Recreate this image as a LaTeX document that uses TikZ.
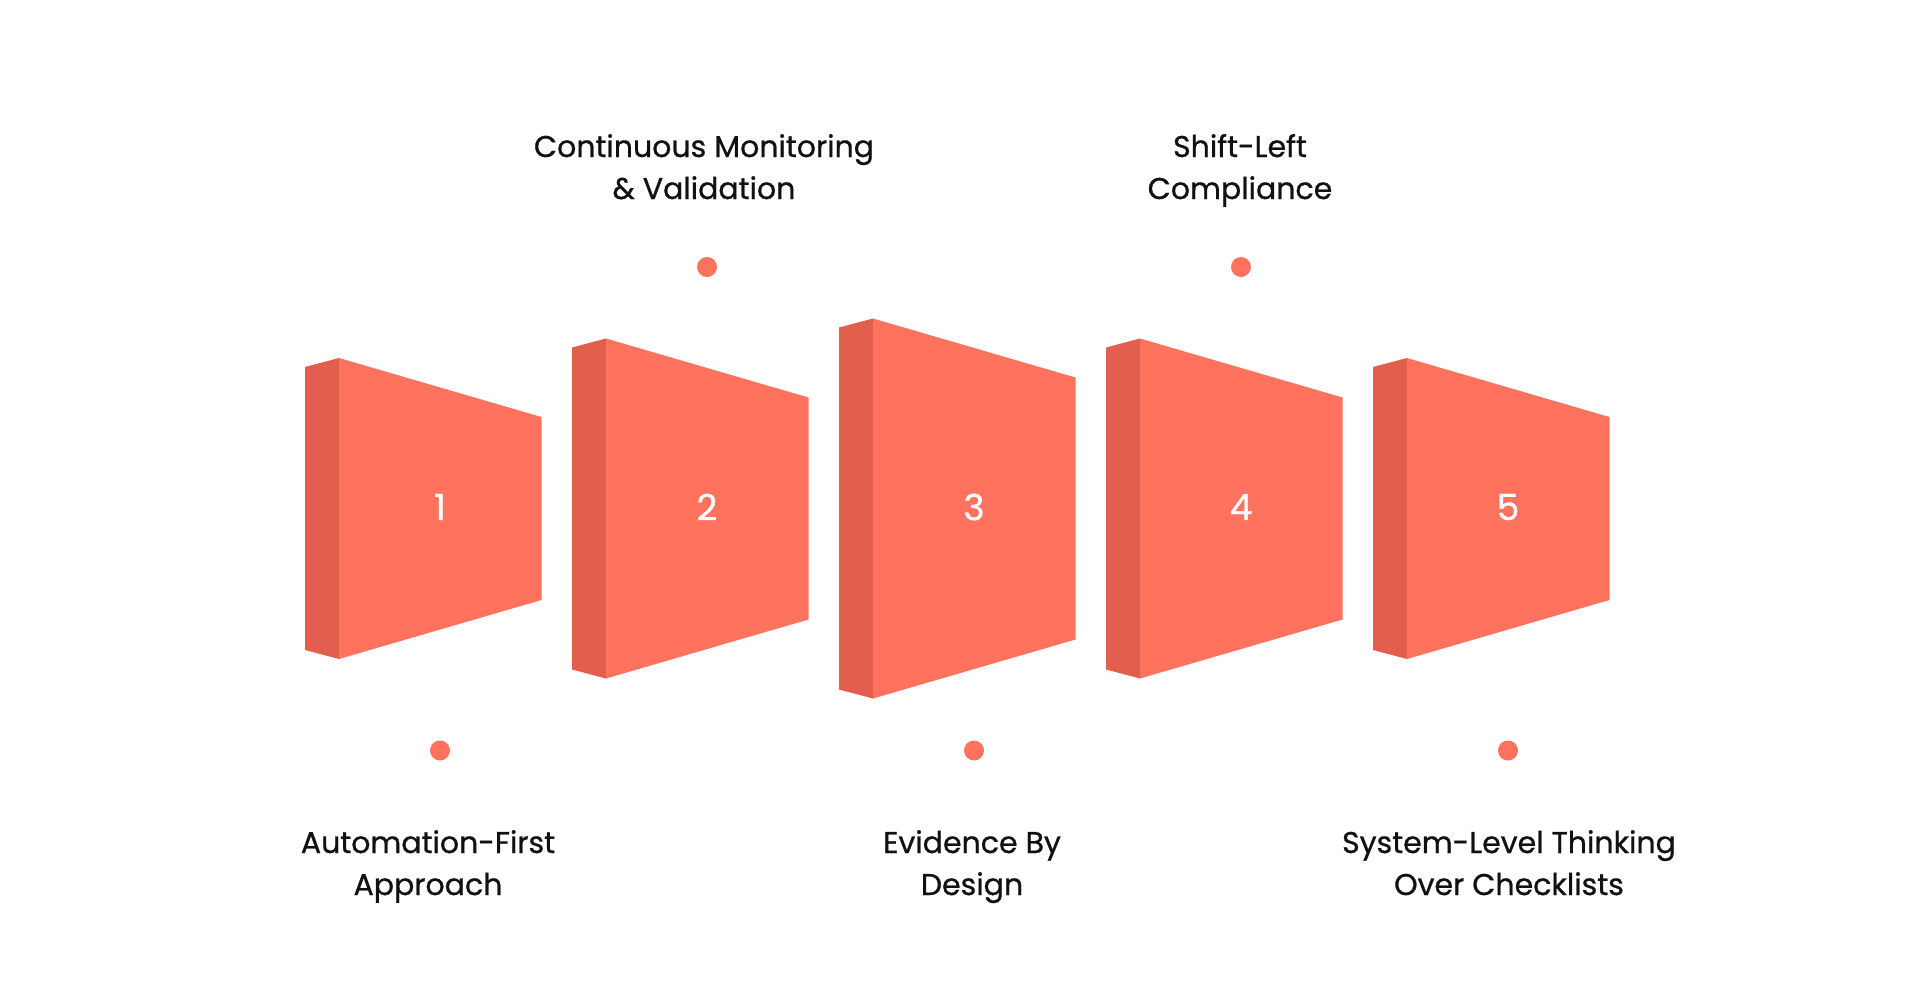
\documentclass[tikz,border=0pt]{standalone}
\usepackage{fontspec}
\setmainfont{Poppins}[UprightFeatures={FakeBold=0.8}]
\definecolor{face}{HTML}{FE725E}
\definecolor{side}{HTML}{E15F4C}
\definecolor{ink}{HTML}{111111}
\begin{document}
\begin{tikzpicture}[x=1pt,y=-1pt,
  lbl/.style={text=ink,align=center,font=\fontsize{30}{42}\selectfont,inner sep=0pt},
  num/.style={text=white,font=\fontsize{36}{40}\selectfont,inner sep=0pt},
  dotmark/.style={circle,fill=face,minimum size=20pt,inner sep=0pt}]
\useasboundingbox (0,0) rectangle (1920,1007);
\fill[white] (0,0) rectangle (1920,1007);
\def\cy{508.5}
\foreach \i/\h in {0/150.5,1/170,2/190,3/170,4/150.5}{
  \pgfmathsetmacro{\xa}{305+267*\i}
  \pgfmathsetmacro{\xb}{\xa+34}
  \pgfmathsetmacro{\xc}{\xa+236.5}
  \fill[side] (\xa,\cy-\h+9) -- (\xb,\cy-\h) -- (\xb,\cy+\h) -- (\xa,\cy+\h-9) -- cycle;
  \fill[face] (\xb,\cy-\h) -- (\xc,\cy-\h+59) -- (\xc,\cy+\h-59) -- (\xb,\cy+\h) -- cycle;
}
\node[num] (n1) at (440,507) {1};
\node[num] (n2) at (707,507) {2};
\node[num] (n3) at (974,507) {3};
\node[num] (n4) at (1241,507) {4};
\node[num] (n5) at (1508,507) {5};
\node[dotmark] (d1) at (440,750.5) {};
\node[dotmark] (d2) at (707,267) {};
\node[dotmark] (d3) at (974,750.5) {};
\node[dotmark] (d4) at (1241,267) {};
\node[dotmark] (d5) at (1508,750.5) {};
\node[lbl] (l1) at (428,865.6) {\strut Automation-First\\\strut Approach};
\node[lbl] (l2) at (704,169.6) {\strut Continuous Monitoring\\\strut\& Validation};
\node[lbl] (l3) at (972,865.6) {\strut Evidence By\\\strut Design};
\node[lbl] (l4) at (1240,169.6) {\strut Shift-Left\\\strut Compliance};
\node[lbl] (l5) at (1509,865.6) {\strut System-Level Thinking\\\strut Over Checklists};
\end{tikzpicture}
\end{document}
